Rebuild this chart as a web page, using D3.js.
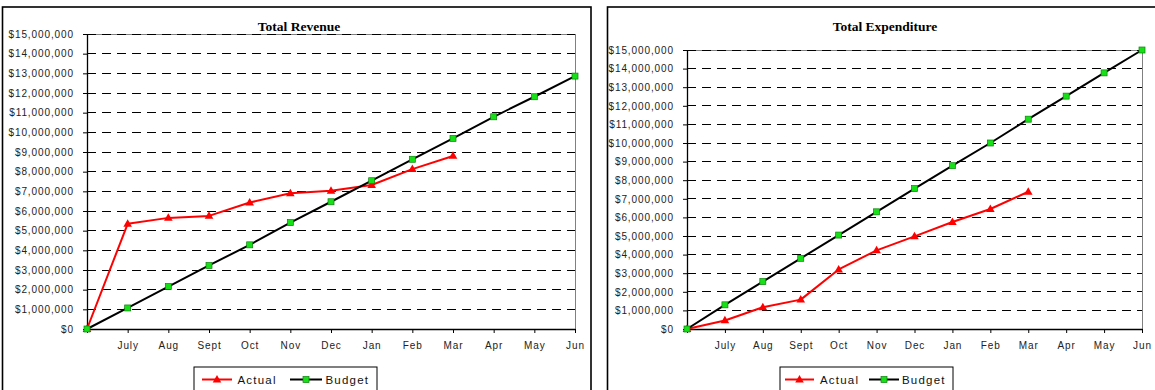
<!DOCTYPE html>
<html>
<head>
<meta charset="utf-8">
<script src="https://cdn.jsdelivr.net/npm/d3@7"></script>
<style>
  body { margin: 0; background: #fff; }
  svg { display: block; }
  text { font-family: "Liberation Sans", Arial, sans-serif; }
</style>
</head>
<body>
<svg id="chart" width="1155" height="390"></svg>
<script>
// Cumulative monthly figures, July through June (first point is the opening $0)
const months = ["", "July", "Aug", "Sept", "Oct", "Nov", "Dec", "Jan", "Feb", "Mar", "Apr", "May", "Jun"];

const revenueActual = [0, 5350000, 5650000, 5750000, 6430000, 6900000, 7030000, 7320000, 8130000, 8800000];
const revenueBudget = [0, 1070000, 2160000, 3230000, 4280000, 5410000, 6470000, 7540000, 8630000, 9690000, 10790000, 11810000, 12860000];

const expenditureActual = [0, 460000, 1170000, 1580000, 3200000, 4230000, 4980000, 5750000, 6450000, 7380000];
const expenditureBudget = [0, 1300000, 2550000, 3800000, 5050000, 6300000, 7550000, 8780000, 10000000, 11280000, 12520000, 13770000, 15000000];

const yTicks = [0, 1000000, 2000000, 3000000, 4000000, 5000000, 6000000, 7000000,
                8000000, 9000000, 10000000, 11000000, 12000000, 13000000, 14000000, 15000000];

const seriesNames = ["Actual", "Budget"];

const RED = "#ff0000";
const GREEN = "#18e018";
const GREEN_EDGE = "#0b7f0b";

const svg = d3.select("#chart");

const panels = [
  {
    title: "Total Revenue",
    frame: { x: 2.5, y: 7, w: 588.5 },
    plot: { left: 87, right: 575, top: 34, bottom: 329 },
    titleX: 299,
    actual: revenueActual,
    budget: revenueBudget,
    legend: { x: 194, w: 183, l1: [8, 38], t1: 43.5, l2: [96, 128], t2: 131.5 }
  },
  {
    title: "Total Expenditure",
    frame: { x: 607.5, y: 7, w: 600 },
    plot: { left: 687, right: 1142, top: 50, bottom: 329 },
    titleX: 885,
    actual: expenditureActual,
    budget: expenditureBudget,
    legend: { x: 780, w: 173, l1: [5, 34], t1: 40, l2: [89, 119], t2: 122 }
  }
];

const trianglePath = "M0,-4.6L4.3,2.9L-4.3,2.9Z";

function drawTriangle(g, cx, cy) {
  g.append("path")
    .attr("d", trianglePath)
    .attr("transform", `translate(${cx},${cy})`)
    .attr("fill", RED);
}

function drawSquare(g, cx, cy) {
  g.append("rect")
    .attr("x", cx - 3).attr("y", cy - 3)
    .attr("width", 6).attr("height", 6)
    .attr("fill", GREEN)
    .attr("stroke", GREEN_EDGE)
    .attr("stroke-width", 0.7);
}

panels.forEach(p => {
  const g = svg.append("g");

  // outer chart frame
  g.append("rect")
    .attr("x", p.frame.x).attr("y", p.frame.y)
    .attr("width", p.frame.w).attr("height", 420)
    .attr("fill", "#fff")
    .attr("stroke", "#000")
    .attr("stroke-width", 1.6);

  const x = d3.scalePoint().domain(months).range([p.plot.left, p.plot.right]).padding(0);
  const y = d3.scaleLinear().domain([0, 15000000]).range([p.plot.bottom, p.plot.top]);

  // plot area border
  g.append("rect")
    .attr("x", p.plot.left).attr("y", p.plot.top)
    .attr("width", p.plot.right - p.plot.left)
    .attr("height", p.plot.bottom - p.plot.top)
    .attr("fill", "none")
    .attr("stroke", "#808080")
    .attr("stroke-width", 1)
    .attr("shape-rendering", "crispEdges");

  // dashed horizontal gridlines
  g.append("g").selectAll("line")
    .data(yTicks.filter(v => v > 0))
    .join("line")
    .attr("x1", p.plot.left).attr("x2", p.plot.right)
    .attr("y1", d => y(d)).attr("y2", d => y(d))
    .attr("stroke", "#000")
    .attr("stroke-width", 1)
    .attr("stroke-dasharray", "9,6")
    .attr("shape-rendering", "crispEdges");

  // chart title
  g.append("text")
    .attr("x", p.titleX).attr("y", 31)
    .attr("text-anchor", "middle")
    .style("font-family", "'Liberation Serif', 'Times New Roman', serif")
    .style("font-weight", "bold")
    .style("font-size", "13.5px")
    .attr("fill", "#000")
    .text(p.title);

  // y axis
  const yAxis = g.append("g")
    .attr("transform", `translate(${p.plot.left},0)`)
    .call(d3.axisLeft(y).tickValues(yTicks).tickSize(4).tickSizeOuter(0)
      .tickPadding(9).tickFormat(d3.format("$,")));
  yAxis.select(".domain").attr("stroke", "#000").attr("stroke-width", 1.3);
  yAxis.selectAll(".tick line").attr("stroke", "#000");
  yAxis.selectAll("text")
    .style("font-family", "'Liberation Sans', Arial, sans-serif")
    .style("font-size", "10px")
    .style("letter-spacing", "0.9px")
    .attr("fill", "#222");

  // x axis
  const xAxis = g.append("g")
    .attr("transform", `translate(0,${p.plot.bottom})`)
    .call(d3.axisBottom(x).tickSize(4).tickSizeOuter(0).tickPadding(9));
  xAxis.select(".domain").attr("stroke", "#000").attr("stroke-width", 1.3);
  xAxis.selectAll(".tick line").attr("stroke", "#000");
  xAxis.selectAll("text")
    .style("font-family", "'Liberation Sans', Arial, sans-serif")
    .style("font-size", "10px")
    .style("letter-spacing", "0.9px")
    .attr("fill", "#222");

  const line = d3.line()
    .x((d, i) => x(months[i]))
    .y(d => y(d));

  // Actual series
  g.append("path")
    .datum(p.actual)
    .attr("d", line)
    .attr("fill", "none")
    .attr("stroke", RED)
    .attr("stroke-width", 2)
    .attr("stroke-linejoin", "round");
  p.actual.forEach((v, i) => drawTriangle(g, x(months[i]), y(v)));

  // Budget series
  g.append("path")
    .datum(p.budget)
    .attr("d", line)
    .attr("fill", "none")
    .attr("stroke", "#000")
    .attr("stroke-width", 2)
    .attr("stroke-linejoin", "round");
  p.budget.forEach((v, i) => drawSquare(g, x(months[i]), y(v)));

  // legend
  const L = p.legend;
  const lg = g.append("g").attr("transform", `translate(${L.x},367)`);
  lg.append("rect")
    .attr("x", 0).attr("y", 0).attr("width", L.w).attr("height", 30)
    .attr("fill", "#fff").attr("stroke", "#000").attr("stroke-width", 1);
  const ly = 12.5;
  lg.append("line").attr("x1", L.l1[0]).attr("x2", L.l1[1]).attr("y1", ly).attr("y2", ly)
    .attr("stroke", RED).attr("stroke-width", 2);
  drawTriangle(lg, (L.l1[0] + L.l1[1]) / 2, ly);
  lg.append("line").attr("x1", L.l2[0]).attr("x2", L.l2[1]).attr("y1", ly).attr("y2", ly)
    .attr("stroke", "#000").attr("stroke-width", 2);
  drawSquare(lg, (L.l2[0] + L.l2[1]) / 2, ly);
  [L.t1, L.t2].forEach((tx, k) => {
    lg.append("text")
      .attr("x", tx).attr("y", 16.5)
      .style("font-size", "11.5px")
      .style("letter-spacing", "1.2px")
      .attr("fill", "#111")
      .text(seriesNames[k]);
  });
});
</script>
</body>
</html>
